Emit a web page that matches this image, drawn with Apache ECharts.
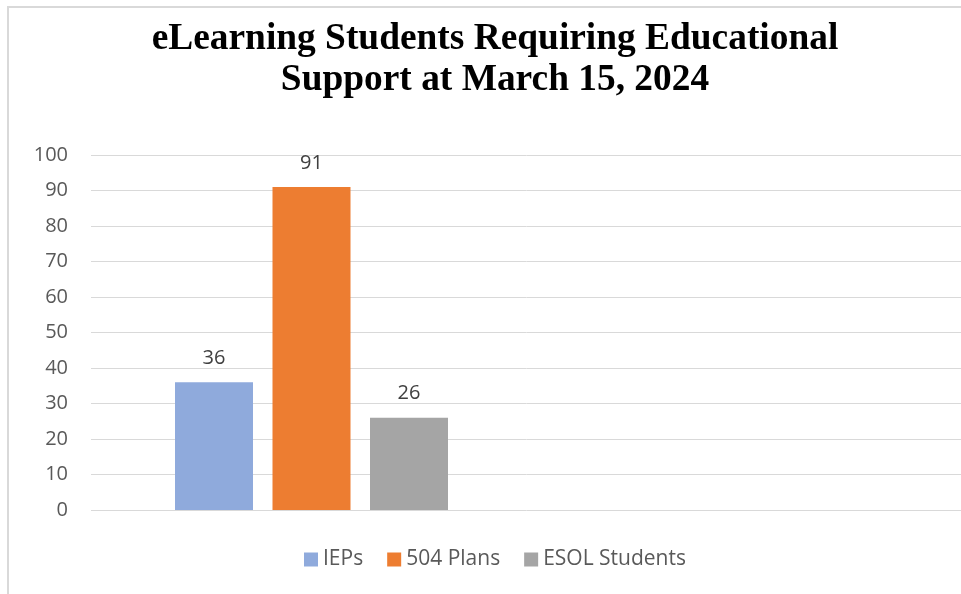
<!DOCTYPE html>
<html>
<head>
<meta charset="utf-8">
<script src="https://cdn.jsdelivr.net/npm/echarts@6/dist/echarts.min.js"></script>
<style>html,body{margin:0;padding:0;background:#fff;}#c{width:961px;height:594px;}</style>
</head>
<body>
<div id="c"></div>
<script>
const titleText = 'eLearning Students Requiring Educational\nSupport at March 15, 2024';
const categories = ['', ''];
const seriesNames = ['IEPs', '504 Plans', 'ESOL Students'];
const iepValues = [36];
const plan504Values = [91];
const esolValues = [26];
const seriesColors = ['#8faadc', '#ed7d31', '#a5a5a5'];
const yTicks = { min: 0, max: 100, interval: 10 };

const chart = echarts.init(document.getElementById('c'), null, { renderer: 'canvas' });
const allValues = [iepValues, plan504Values, esolValues];
const labelFont = '"Open Sans", "Noto Sans", sans-serif';

chart.setOption({
  backgroundColor: '#ffffff',
  animation: false,
  title: {
    text: titleText,
    left: 490,
    textAlign: 'center',
    top: 14,
    textStyle: {
      fontFamily: '"Liberation Serif", "Times New Roman", serif',
      fontWeight: 'bold',
      fontSize: 37.4,
      lineHeight: 41,
      color: '#000000'
    }
  },
  graphic: [{
    type: 'rect',
    shape: { x: 8, y: 7, width: 1000, height: 1000 },
    style: { fill: 'none', stroke: '#d9d9d9', lineWidth: 2 },
    silent: true
  }],
  legend: {
    data: seriesNames,
    left: 299,
    top: 544,
    itemWidth: 14,
    itemHeight: 14,
    itemGap: 24,
    icon: 'rect',
    textStyle: { fontFamily: labelFont, fontSize: 21, color: '#595959' }
  },
  grid: { left: 91, top: 155, width: 882, height: 355, containLabel: false, outerBoundsMode: 'none' },
  xAxis: {
    type: 'category',
    data: categories,
    axisLine: { show: false },
    axisTick: { show: false },
    axisLabel: { show: false },
    splitLine: { show: false }
  },
  yAxis: {
    type: 'value',
    min: yTicks.min,
    max: yTicks.max,
    interval: yTicks.interval,
    axisLine: { show: false },
    axisTick: { show: false },
    axisLabel: { margin: 23, fontFamily: labelFont, fontSize: 20, color: '#595959' },
    splitLine: { lineStyle: { color: '#d9d9d9', width: 1 } }
  },
  series: seriesNames.map((name, i) => ({
    name: name,
    type: 'bar',
    data: allValues[i],
    barWidth: 78,
    barGap: '25%',
    itemStyle: { color: seriesColors[i] },
    label: {
      show: true,
      position: 'top',
      distance: 14,
      fontFamily: labelFont,
      fontSize: 20,
      color: '#404040'
    }
  }))
});
</script>
</body>
</html>
